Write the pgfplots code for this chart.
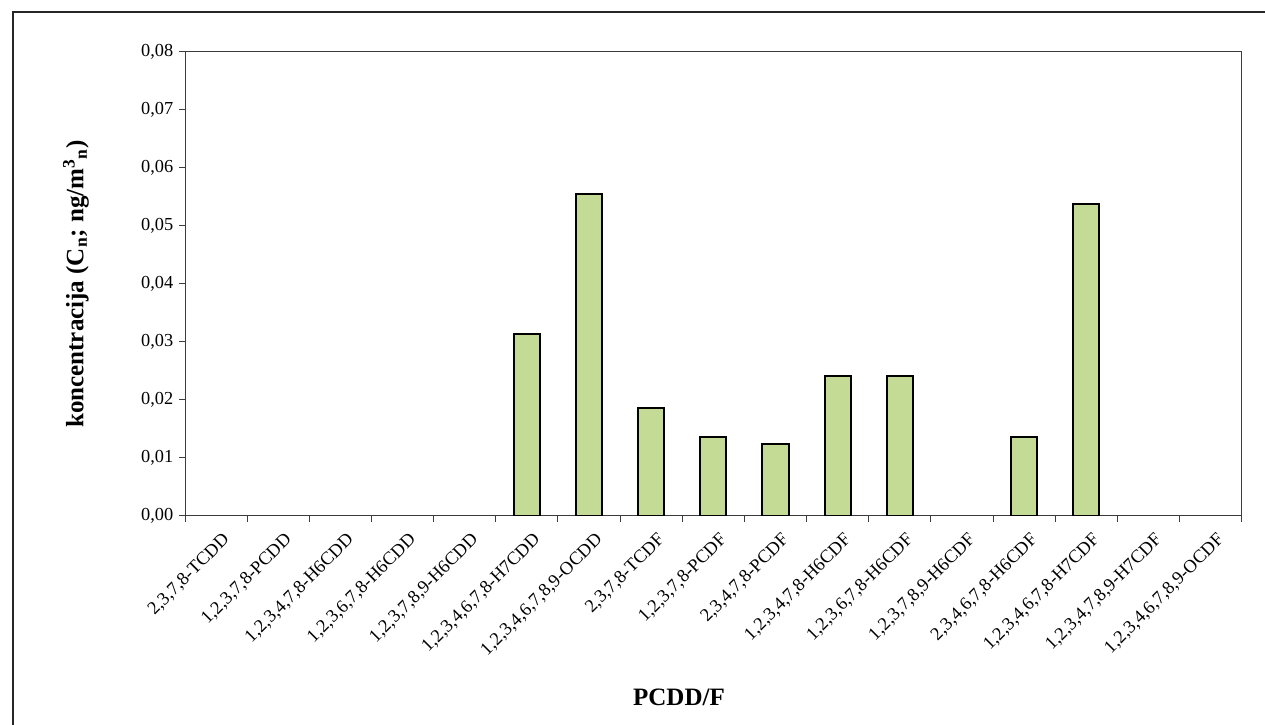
\documentclass[border=0pt]{standalone}
\usepackage{pgfplots}
\pgfplotsset{compat=1.18}
\usepackage{fontspec}
\setmainfont{Liberation Serif}
\definecolor{barfill}{RGB}{196,219,150}
\definecolor{axisgray}{RGB}{60,60,60}

\begin{document}
\begin{tikzpicture}
\useasboundingbox (0,0) rectangle (759pt,435pt);
% outer frame (only left and top edges are inside the picture)
\draw[line width=1.2pt,black!85] (8pt,0pt) -- (8pt,428pt) -- (770pt,428pt);
\begin{axis}[
	at={(111pt,125.4pt)}, anchor=south west,
	scale only axis, width=634pt, height=278.4pt,
	xmin=-0.5, xmax=16.5,
	ymin=0, ymax=0.08,
	ytick={0,0.01,...,0.08},
	scaled y ticks=false,
	xtick={-0.5,0.5,...,16.5},
	xticklabels={},
	extra x ticks={0,1,...,16},
	extra x tick labels={{2,3,7,8-TCDD},{1,2,3,7,8-PCDD},{1,2,3,4,7,8-H6CDD},
		{1,2,3,6,7,8-H6CDD},{1,2,3,7,8,9-H6CDD},{1,2,3,4,6,7,8-H7CDD},
		{1,2,3,4,6,7,8,9-OCDD},{2,3,7,8-TCDF},{1,2,3,7,8-PCDF},{2,3,4,7,8-PCDF},
		{1,2,3,4,7,8-H6CDF},{1,2,3,6,7,8-H6CDF},{1,2,3,7,8,9-H6CDF},
		{2,3,4,6,7,8-H6CDF},{1,2,3,4,6,7,8-H7CDF},{1,2,3,4,7,8,9-H7CDF},
		{1,2,3,4,6,7,8,9-OCDF}},
	extra x tick style={major tick length=0pt,
		tick label style={rotate=45, anchor=north east, yshift=-5.5pt, xshift=-1pt,
		font=\fontsize{11}{13}\selectfont}},
	tick align=outside,
	tick pos=left,
	major tick length=3.5pt,
	axis line style={axisgray, line width=0.6pt},
	tick style={axisgray, line width=0.6pt},
	y tick label style={font=\fontsize{11}{13}\selectfont,
		/pgf/number format/fixed, /pgf/number format/fixed zerofill,
		/pgf/number format/precision=2, /pgf/number format/use comma,
		/pgf/number format/assume math mode=true},
	xlabel={PCDD/F},
	ylabel={koncentracija (C\textsubscript{n}; ng/m\textsuperscript{3}\textsubscript{n})},
	xlabel style={at={(axis description cs:0.4675,-0.39)}, anchor=center,
		font=\bfseries\fontsize{15}{18}\selectfont},
	ylabel style={at={(axis description cs:-0.1032,0.5)}, anchor=center,
		font=\bfseries\fontsize{15}{18}\selectfont},
]
\addplot[ybar, bar width=0.42, fill=barfill, draw=black, line width=1.2pt]
	coordinates {
	(5,0.0314) (6,0.0555) (7,0.0187) (8,0.0137) (9,0.0124)
	(10,0.0241) (11,0.0241) (13,0.0136) (14,0.0538)
	};
\end{axis}
\end{tikzpicture}
\end{document}
